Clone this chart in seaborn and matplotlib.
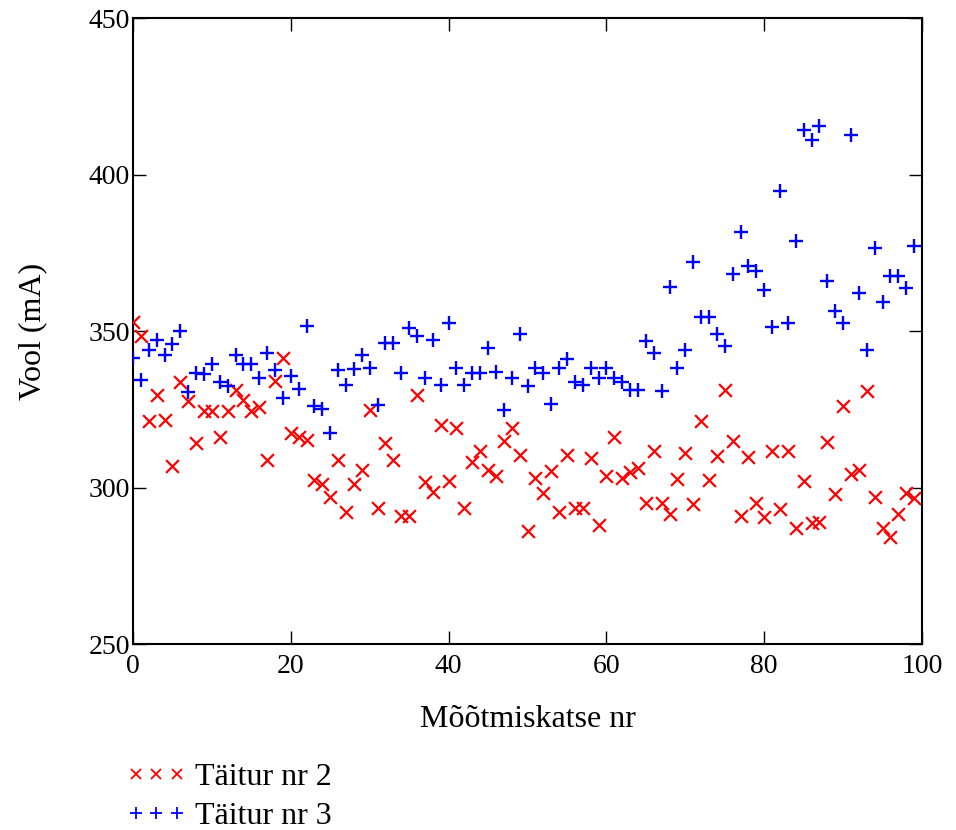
import numpy as np
import pandas as pd
import matplotlib
matplotlib.use("Agg")
import matplotlib.pyplot as plt
from matplotlib.lines import Line2D
import seaborn as sns

measurement = list(range(100))

taitur2 = [352.9, 348.4, 321.2, 329.6, 321.6, 306.9, 333.7, 327.6, 314.2, 324.4,
           324.4, 316.1, 324.4, 331.2, 328.0, 324.4, 325.7, 308.8, 334.0, 341.4,
           317.4, 316.1, 315.2, 302.4, 301.1, 297.0, 308.8, 292.2, 301.1, 305.6,
           324.8, 293.5, 314.2, 308.8, 290.9, 290.9, 329.6, 301.8, 298.6, 320.0,
           302.1, 319.0, 293.5, 308.1, 311.7, 305.6, 303.7, 314.9, 319.0, 310.4,
           286.1, 303.0, 298.2, 305.3, 292.2, 310.4, 293.5, 293.5, 309.4, 288.0,
           303.7, 316.1, 303.0, 305.0, 306.2, 295.1, 311.7, 295.1, 291.5, 302.7,
           311.0, 294.7, 321.2, 302.4, 310.1, 331.2, 314.9, 290.8, 309.7, 295.1,
           290.6, 311.7, 293.1, 311.7, 287.1, 302.1, 288.7, 289.0, 314.5, 297.9,
           326.0, 304.3, 305.6, 330.8, 297.0, 287.1, 284.2, 291.5, 298.2, 296.6]

taitur3 = [341.4, 334.3, 343.9, 347.0, 342.3, 345.8, 350.0, 330.5, 336.6, 336.3,
           339.5, 333.7, 332.4, 342.3, 339.5, 339.5, 335.0, 343.0, 337.5, 328.6,
           335.6, 331.5, 351.6, 326.0, 325.1, 317.4, 337.5, 332.7, 337.9, 342.3,
           338.2, 326.4, 346.2, 346.2, 336.6, 351.0, 348.4, 335.0, 347.0, 332.7,
           352.6, 338.2, 332.7, 336.6, 336.6, 344.5, 336.9, 324.8, 335.0, 349.0,
           332.4, 338.2, 336.6, 326.7, 338.2, 341.0, 333.7, 332.7, 338.2, 335.0,
           338.2, 335.0, 333.7, 331.2, 331.2, 346.8, 343.0, 330.8, 364.1, 338.2,
           343.9, 372.0, 354.5, 354.5, 349.0, 345.2, 368.2, 381.6, 370.7, 369.2,
           363.1, 351.3, 394.7, 352.6, 378.8, 414.2, 411.0, 415.5, 366.0, 356.4,
           352.6, 412.7, 362.1, 343.9, 376.6, 359.3, 367.6, 367.6, 363.7, 377.2]

series_names = ["Täitur nr 2", "Täitur nr 3"]
x_ticks = [0, 20, 40, 60, 80, 100]
y_ticks = [250, 300, 350, 400, 450]

df2 = pd.DataFrame({"x": measurement, "y": taitur2})
df3 = pd.DataFrame({"x": measurement, "y": taitur3})

sns.set_theme(style="white")
plt.rcParams["font.family"] = ["Liberation Serif", "DejaVu Serif"]
plt.rcParams["text.color"] = "black"

fig = plt.figure(figsize=(9.56, 8.3), dpi=100)
ax = fig.add_axes([133/956, 1-644/830, (922-133)/956, (644-18)/830])

red = "#ff0000"
blue = "#0000ff"
sns.scatterplot(data=df2, x="x", y="y", marker="x", color=red, s=85,
                linewidth=1.6, ax=ax, legend=False, zorder=3)
sns.scatterplot(data=df3, x="x", y="y", marker="+", color=blue, s=95,
                linewidth=1.7, ax=ax, legend=False, zorder=3)

ax.set_xlim(0, 100)
ax.set_ylim(250, 450)
ax.set_xticks(x_ticks)
ax.set_yticks(y_ticks)
ax.set_xticklabels([str(v) for v in x_ticks])
ax.set_yticklabels([str(v) for v in y_ticks])
ax.tick_params(axis="both", direction="in", length=9.5, width=1.0, color="black",
               labelsize=20, labelcolor="black")
ax.tick_params(axis="x", top=True, bottom=True, pad=7)
ax.tick_params(axis="y", left=True, right=True, pad=2)
for sp in ax.spines.values():
    sp.set_visible(True)
    sp.set_color("black")
    sp.set_linewidth(1.5)

ax.set_xlabel("Mõõtmiskatse nr", fontsize=23, labelpad=19, color="black")
ax.set_ylabel("Vool (mA)", fontsize=23, labelpad=30, color="black")

handles = [Line2D([], [], marker="x", color=red, linestyle="none", markersize=7,
                  markeredgewidth=1.3),
           Line2D([], [], marker="+", color=blue, linestyle="none", markersize=8,
                  markeredgewidth=1.3)]
fig.legend(handles, series_names, loc="upper left",
           bbox_to_anchor=(126/956, 1-763/830), frameon=False, fontsize=23,
           numpoints=3, handlelength=1.9, handletextpad=0.25, labelspacing=0.3,
           borderpad=0, borderaxespad=0, labelcolor="black")

fig.savefig("out.png", dpi=100, facecolor="white")
